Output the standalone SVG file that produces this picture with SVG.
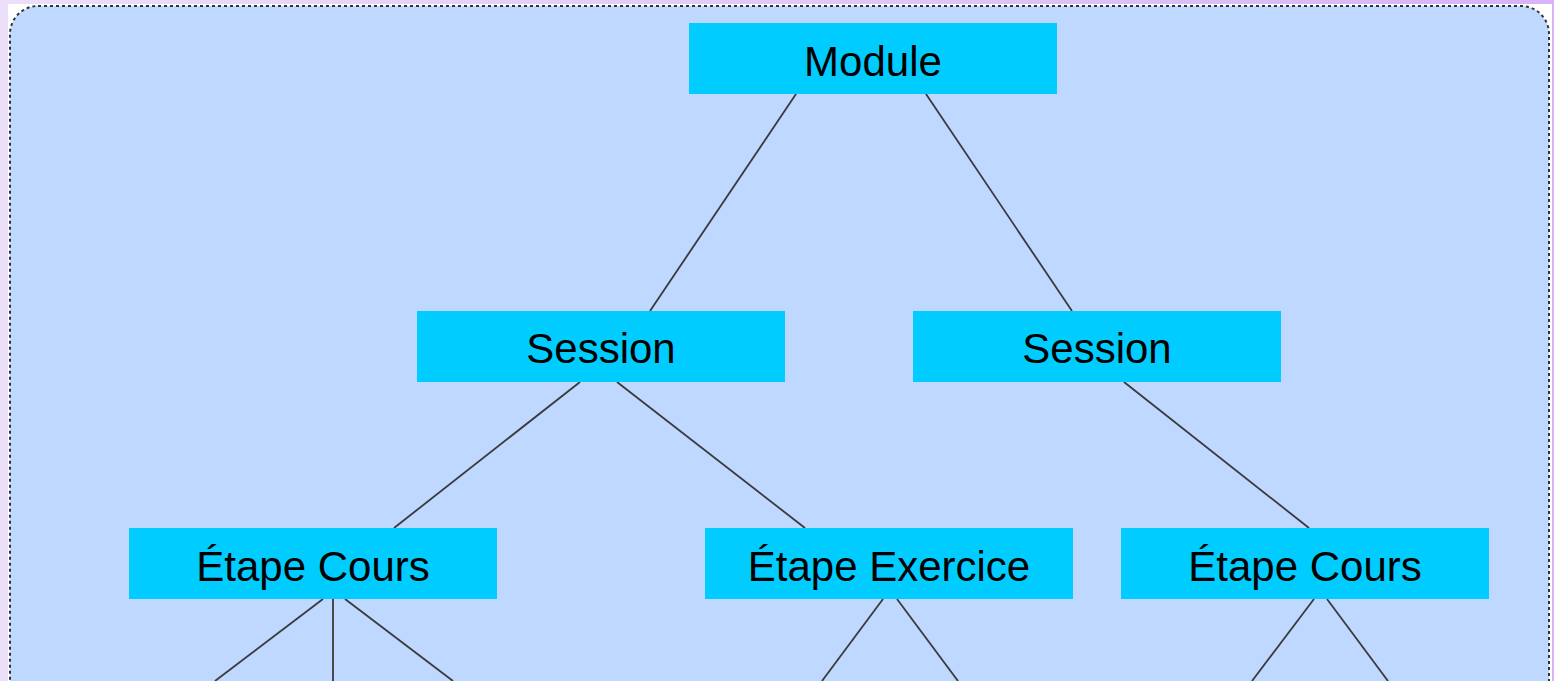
<svg xmlns="http://www.w3.org/2000/svg" width="1554" height="681" viewBox="0 0 1554 681">
<defs>
<linearGradient id="bg" x1="0" y1="0" x2="1" y2="0">
<stop offset="0" stop-color="#ecdff9"/>
<stop offset="1" stop-color="#d6b4f7"/>
</linearGradient>
<style>
.node rect{fill:#00ccff;}
.node text{font-family:"Liberation Sans",Arial,sans-serif;font-size:42px;fill:#000;text-anchor:middle;}
#connectors line{stroke:#3a3a3a;stroke-width:1.8;}
</style>
</defs>
<rect x="0" y="0" width="1554" height="681" fill="url(#bg)"/>
<rect x="8" y="4" width="1544" height="677" fill="#ffffff"/>
<rect x="10" y="6" width="1539" height="720" rx="28" ry="28" fill="#bfd8ff" stroke="#333" stroke-width="2" stroke-dasharray="3,3"/>
<g id="connectors">
<line x1="796" y1="94" x2="650" y2="311"/>
<line x1="926" y1="94" x2="1072" y2="311"/>
<line x1="580" y1="382" x2="394" y2="528"/>
<line x1="617" y1="382" x2="805" y2="528"/>
<line x1="1124" y1="382" x2="1309" y2="528"/>
<line x1="323" y1="599" x2="215" y2="681"/>
<line x1="333" y1="599" x2="333" y2="681"/>
<line x1="345" y1="599" x2="453" y2="681"/>
<line x1="883" y1="599" x2="822" y2="681"/>
<line x1="897" y1="599" x2="958" y2="681"/>
<line x1="1314" y1="599" x2="1252" y2="681"/>
<line x1="1327" y1="599" x2="1388" y2="681"/>
</g>
<g id="module" class="node"><rect x="689" y="23" width="368" height="71"/><text x="873" y="76">Module</text></g>
<g id="session1" class="node"><rect x="417" y="311" width="368" height="71"/><text x="601" y="363">Session</text></g>
<g id="session2" class="node"><rect x="913" y="311" width="368" height="71"/><text x="1097" y="363">Session</text></g>
<g id="etape1" class="node"><rect x="129" y="528" width="368" height="71"/><text x="313" y="581">Étape Cours</text></g>
<g id="etape2" class="node"><rect x="705" y="528" width="368" height="71"/><text x="889" y="581">Étape Exercice</text></g>
<g id="etape3" class="node"><rect x="1121" y="528" width="368" height="71"/><text x="1305" y="581">Étape Cours</text></g>
</svg>
